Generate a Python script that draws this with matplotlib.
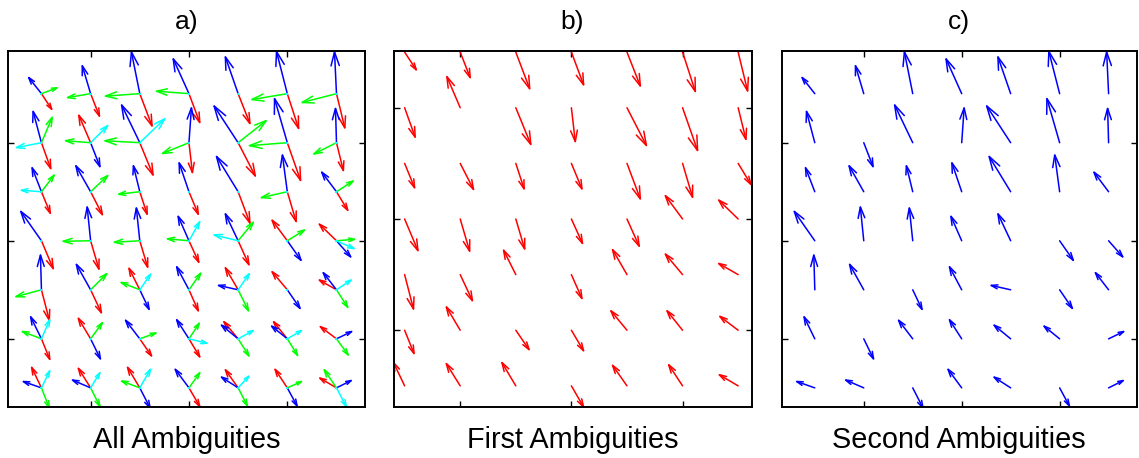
import numpy as np
import matplotlib
matplotlib.use("Agg")
import matplotlib.pyplot as plt
from matplotlib.collections import LineCollection

nan = np.nan

# Wind-vector ambiguities on a 7x7 grid (rows listed top to bottom),
# components in grid units (u to the right, v upward).
red_u = [[0.21, 0.18, 0.25, 0.22, 0.24, 0.23, 0.17],
         [0.19, -0.24, 0.27, 0.07, 0.35, 0.27, 0.14],
         [0.18, 0.24, 0.15, 0.19, 0.24, 0.18, 0.23],
         [0.24, 0.17, 0.16, 0.20, 0.22, -0.31, -0.35],
         [0.16, 0.22, -0.22, 0.19, -0.26, -0.31, -0.35],
         [0.17, -0.25, 0.24, 0.22, -0.29, -0.28, -0.33],
         [-0.20, -0.25, -0.25, 0.22, -0.26, -0.25, -0.34]]
red_v = [[-0.32, -0.46, -0.66, -0.59, -0.61, -0.71, -0.70],
         [-0.53, 0.56, -0.66, -0.61, -0.68, -0.77, -0.57],
         [-0.44, -0.47, -0.46, -0.46, -0.64, -0.61, -0.38],
         [-0.57, -0.58, -0.54, -0.44, -0.49, 0.42, 0.34],
         [-0.62, -0.47, 0.44, -0.43, 0.45, 0.37, 0.20],
         [-0.42, 0.42, -0.35, -0.37, 0.35, 0.35, 0.25],
         [0.42, 0.40, 0.42, -0.38, 0.37, 0.38, 0.20]]

blue_u = [[-0.26, -0.17, -0.17, -0.32, -0.26, -0.22, -0.04],
          [-0.17, 0.19, -0.37, 0.05, -0.49, -0.26, -0.02],
          [-0.19, -0.30, -0.13, -0.20, -0.44, -0.10, -0.30],
          [-0.42, -0.07, -0.07, -0.22, -0.26, 0.28, 0.29],
          [-0.02, -0.29, 0.19, -0.25, -0.40, 0.26, -0.27],
          [-0.22, 0.20, -0.29, -0.25, -0.34, -0.32, 0.31],
          [-0.37, -0.37, 0.21, -0.28, -0.34, 0.20, 0.30]]
blue_v = [[0.33, 0.57, 0.85, 0.71, 0.75, 0.86, 0.85],
          [0.64, -0.49, 0.77, 0.71, 0.75, 0.90, 0.70],
          [0.49, 0.53, 0.53, 0.59, 0.72, 0.75, 0.40],
          [0.60, 0.69, 0.67, 0.50, 0.55, -0.40, -0.33],
          [0.71, 0.52, -0.40, 0.47, 0.09, -0.38, 0.35],
          [0.45, -0.41, 0.38, 0.39, 0.28, 0.26, 0.15],
          [0.13, 0.16, -0.41, 0.38, 0.22, -0.37, 0.15]]

green_u = [[0.32, -0.47, -0.70, -0.66, nan, -0.72, -0.70],
           [0.22, -0.51, -0.71, -0.54, 0.57, -0.77, -0.46],
           [0.26, 0.35, -0.43, nan, nan, -0.53, 0.34],
           [nan, -0.56, -0.52, -0.44, 0.31, 0.35, 0.37],
           [-0.52, 0.33, -0.38, 0.24, 0.21, nan, 0.23],
           [-0.39, 0.24, 0.33, 0.21, 0.22, 0.21, 0.24],
           [0.16, 0.19, -0.37, 0.22, 0.19, 0.29, -0.25]]
green_v = [[0.12, -0.08, -0.05, 0.05, nan, -0.12, -0.18],
           [0.52, 0.04, 0.04, -0.22, 0.45, -0.06, -0.23],
           [0.34, 0.33, -0.05, nan, nan, -0.12, 0.22],
           [nan, -0.01, -0.03, 0.04, 0.38, 0.22, 0.03],
           [-0.14, 0.33, 0.15, 0.34, -0.43, nan, -0.36],
           [0.15, 0.33, 0.12, 0.32, -0.35, -0.34, -0.33],
           [-0.41, -0.38, 0.14, 0.31, -0.37, 0.13, 0.37]]

cyan_u = [[nan, nan, nan, nan, nan, nan, nan],
          [-0.51, 0.35, 0.51, nan, nan, nan, nan],
          [-0.41, nan, nan, nan, nan, nan, nan],
          [nan, nan, nan, 0.22, -0.49, nan, 0.36],
          [nan, nan, 0.22, nan, 0.23, nan, 0.30],
          [0.17, nan, nan, 0.37, 0.31, 0.29, nan],
          [0.17, 0.19, 0.22, nan, 0.22, nan, 0.20]]
cyan_v = [[nan, nan, nan, nan, nan, nan, nan],
          [-0.10, 0.35, 0.49, nan, nan, nan, nan],
          [0.03, nan, nan, nan, nan, nan, nan],
          [nan, nan, nan, 0.39, 0.12, nan, -0.16],
          [nan, nan, 0.32, nan, 0.33, nan, 0.20],
          [0.39, nan, nan, -0.09, 0.17, 0.17, nan],
          [0.35, 0.31, 0.38, nan, 0.24, nan, -0.38]]

panel_titles = ["a)", "b)", "c)"]
panel_labels = ["All Ambiguities", "First Ambiguities", "Second Ambiguities"]

RED = (1.0, 0.0, 0.0)
BLUE = (0.0, 0.0, 1.0)
GREEN = (0.0, 1.0, 0.0)
CYAN = (0.0, 1.0, 1.0)

plt.rcParams['font.family'] = ['Liberation Sans', 'DejaVu Sans']

n = 7
cols = np.arange(n)
gx, gy = np.meshgrid(cols, (n - 1) - np.arange(n))


def arrow_lines(u, v, alpha=0.33, beta=0.3):
    """Quiver-style arrows: shaft plus an open V head scaled with length."""
    u = np.asarray(u, float)
    v = np.asarray(v, float)
    lines = []
    for x0, y0, du, dv in zip(gx.ravel(), gy.ravel(), u.ravel(), v.ravel()):
        if np.isnan(du) or np.isnan(dv):
            continue
        tx, ty = x0 + du, y0 + dv
        lines.append([(x0, y0), (tx, ty)])
        b1 = (tx - alpha * (du + beta * dv), ty - alpha * (dv - beta * du))
        b2 = (tx - alpha * (du - beta * dv), ty - alpha * (dv + beta * du))
        lines.append([b1, (tx, ty), b2])
    return lines


def draw(ax, u, v, color):
    lc = LineCollection(arrow_lines(u, v), colors=[color], linewidths=1.1,
                        capstyle='round', joinstyle='miter')
    ax.add_collection(lc)


W, H = 1139, 458
fig = plt.figure(figsize=(W / 100, H / 100), dpi=100)

boxes = [(8, 365), (393.5, 751.5), (781.5, 1137)]
top, bottom = 51, 407
limits = [((-0.68, 6.58), (-0.39, 6.87)),
          ((-0.20, 6.24), (-0.38, 6.02)),
          ((-0.68, 6.58), (-0.39, 6.87))]

axes = []
for (l, r), (xl, yl) in zip(boxes, limits):
    ax = fig.add_axes([l / W, (H - bottom) / H, (r - l) / W, (bottom - top) / H])
    ax.set_xlim(*xl)
    ax.set_ylim(*yl)
    ax.set_xticks([1, 3, 5])
    ax.set_yticks([1, 3, 5])
    ax.tick_params(direction='in', length=4, width=1.0, top=True, right=True,
                   labelbottom=False, labelleft=False)
    for s in ax.spines.values():
        s.set_linewidth(1.4)
    axes.append(ax)

# a) all four ambiguities with the grid points marked
draw(axes[0], red_u, red_v, RED)
draw(axes[0], blue_u, blue_v, BLUE)
draw(axes[0], green_u, green_v, GREEN)
draw(axes[0], cyan_u, cyan_v, CYAN)
axes[0].plot(gx.ravel(), gy.ravel(), 's', color=CYAN, markersize=1.6,
             markeredgewidth=0, zorder=5)

# b) first ambiguity, c) second ambiguity
draw(axes[1], red_u, red_v, RED)
draw(axes[2], blue_u, blue_v, BLUE)

for ax, t, lab in zip(axes, panel_titles, panel_labels):
    ax.set_title(t, fontsize=19, pad=16)
    ax.set_xlabel(lab, fontsize=20.8, labelpad=14)

fig.savefig("out.png", dpi=100)
